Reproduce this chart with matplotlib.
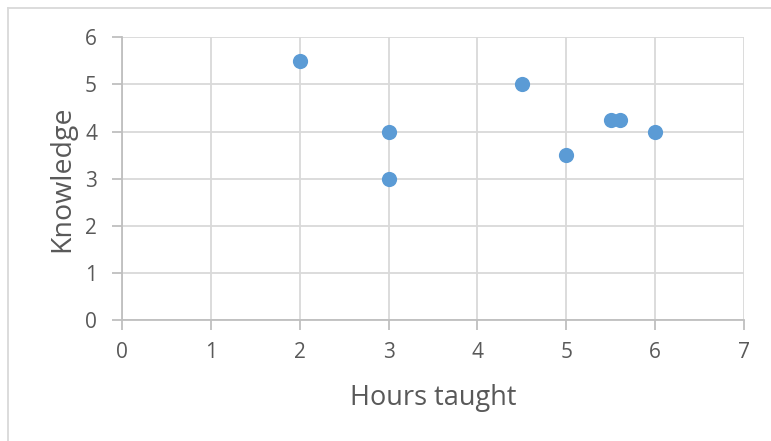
import matplotlib.pyplot as plt
from matplotlib.lines import Line2D

# Data
hours = [2, 3, 3, 4.5, 5, 5.5, 5.6, 6]
knowledge = [5.5, 4, 3, 5, 3.5, 4.25, 4.25, 4]
x_ticks = [0, 1, 2, 3, 4, 5, 6, 7]
y_ticks = [0, 1, 2, 3, 4, 5, 6]

text_color = '#595959'
grid_color = '#d9d9d9'
axis_color = '#bfbfbf'

plt.rcParams['font.family'] = ['Open Sans', 'DejaVu Sans']

fig = plt.figure(figsize=(7.71, 4.41), dpi=100)
ax = fig.add_axes([122 / 771, 1 - 320 / 441, (744 - 122) / 771, (320 - 37.3) / 441])

ax.scatter(hours, knowledge, s=120, color='#5b9bd5', zorder=3, linewidths=0)

ax.set_xlim(0, 7)
ax.set_ylim(0, 6)
ax.set_xticks(x_ticks)
ax.set_yticks(y_ticks)
ax.grid(True, color=grid_color, linewidth=1.3)
ax.set_axisbelow(True)

for side in ['top', 'right']:
    ax.spines[side].set_visible(False)
for side in ['left', 'bottom']:
    ax.spines[side].set_color(axis_color)
    ax.spines[side].set_linewidth(1.3)

ax.tick_params(axis='both', colors=axis_color, length=7, width=1.3,
               labelcolor=text_color, labelsize=15)
ax.tick_params(axis='x', pad=9)
ax.tick_params(axis='y', pad=11)

ax.set_xlabel('Hours taught', fontsize=19.5, color=text_color, labelpad=15)
ax.set_ylabel('Knowledge', fontsize=20.5, color=text_color, labelpad=6)

# outer chart border
bx, by = 7.5 / 771, 1 - 7.5 / 441
fig.add_artist(Line2D([bx, bx], [0, by], transform=fig.transFigure, color=grid_color, linewidth=1.3))
fig.add_artist(Line2D([bx, 1], [by, by], transform=fig.transFigure, color=grid_color, linewidth=1.3))

fig.savefig('out.png', dpi=100)
